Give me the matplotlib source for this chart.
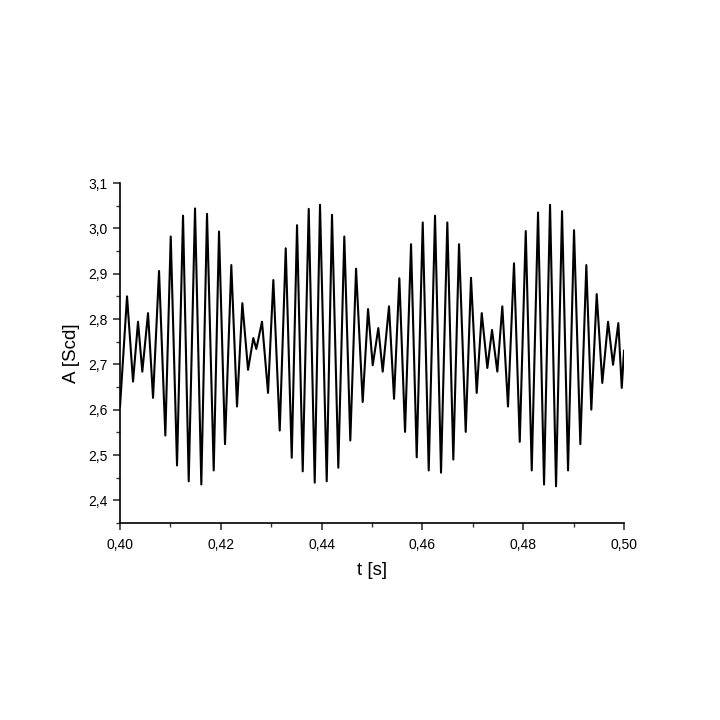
import matplotlib

matplotlib.use("Agg")
import matplotlib.pyplot as plt
from matplotlib.ticker import FuncFormatter, MultipleLocator

plt.rcParams.update(
    {
        "font.family": ["Liberation Sans", "DejaVu Sans"],
        "font.size": 10,
        "axes.labelsize": 13.5,
    }
)

# Turning points of the signal (t in s, A in Scd).
t_points = [
    0.4000, 0.40139, 0.40258, 0.40357, 0.40442, 0.40556, 0.40655, 0.40774,
    0.40899, 0.41006, 0.41131, 0.41250, 0.41363, 0.41488, 0.41613, 0.41726,
    0.41859, 0.41964, 0.42083, 0.42208, 0.42321, 0.42427, 0.42540, 0.42645,
    0.42704, 0.42817, 0.42937, 0.43042, 0.43169, 0.43288, 0.43407, 0.43512,
    0.43625, 0.43744, 0.43863, 0.43968, 0.44101, 0.44206, 0.44331, 0.44450,
    0.44569, 0.44683, 0.44815, 0.44921, 0.45014, 0.45125, 0.45212, 0.45337,
    0.45437, 0.45542, 0.45655, 0.45774, 0.45887, 0.46006, 0.46125, 0.46250,
    0.46369, 0.46494, 0.46613, 0.46726, 0.46859, 0.46964, 0.47077, 0.47177,
    0.47288, 0.47381, 0.47486, 0.47585, 0.47698, 0.47817, 0.47931, 0.48050,
    0.48169, 0.48294, 0.48413, 0.48532, 0.48651, 0.48770, 0.48889, 0.49008,
    0.49133, 0.49252, 0.49351, 0.49458, 0.49569, 0.49683, 0.49782, 0.49887,
    0.49955, 0.5000,
]
a_points = [
    2.607, 2.850, 2.662, 2.794, 2.684, 2.813, 2.626, 2.906,
    2.543, 2.982, 2.477, 3.028, 2.442, 3.044, 2.435, 3.032,
    2.466, 2.993, 2.524, 2.919, 2.607, 2.835, 2.688, 2.758,
    2.734, 2.794, 2.637, 2.886, 2.554, 2.956, 2.494, 3.007,
    2.464, 3.043, 2.439, 3.052, 2.442, 3.030, 2.472, 2.982,
    2.532, 2.911, 2.617, 2.822, 2.698, 2.780, 2.684, 2.828,
    2.624, 2.890, 2.551, 2.965, 2.495, 3.013, 2.466, 3.028,
    2.461, 3.013, 2.490, 2.965, 2.551, 2.891, 2.637, 2.813,
    2.692, 2.776, 2.684, 2.828, 2.607, 2.923, 2.529, 2.994,
    2.466, 3.035, 2.435, 3.052, 2.431, 3.038, 2.466, 2.996,
    2.524, 2.919, 2.600, 2.855, 2.659, 2.794, 2.699, 2.791,
    2.648, 2.730,
]

fig = plt.figure(figsize=(7.2, 7.2), dpi=100)
ax = fig.add_axes([0.1667, 0.2736, 0.7, 0.4722])

ax.plot(t_points, a_points, color="black", linewidth=1.5, solid_joinstyle="round")

ax.set_xlim(0.40, 0.50)
ax.set_ylim(2.35, 3.10)
ax.xaxis.set_major_locator(MultipleLocator(0.02))
ax.xaxis.set_minor_locator(MultipleLocator(0.01))
ax.yaxis.set_major_locator(MultipleLocator(0.1))
ax.yaxis.set_minor_locator(MultipleLocator(0.05))
ax.xaxis.set_major_formatter(FuncFormatter(lambda v, _: f"{v:.2f}".replace(".", ",")))
ax.yaxis.set_major_formatter(FuncFormatter(lambda v, _: f"{v:.1f}".replace(".", ",")))
ax.set_yticks([2.4, 2.5, 2.6, 2.7, 2.8, 2.9, 3.0, 3.1])

for side in ("top", "right"):
    ax.spines[side].set_visible(False)
for side in ("left", "bottom"):
    ax.spines[side].set_linewidth(1.2)

ax.tick_params(which="major", direction="out", length=5, width=1.2, color="#333333")
ax.tick_params(which="minor", direction="out", length=3, width=1.0, color="#333333")
ax.tick_params(axis="x", pad=6)
ax.tick_params(axis="y", pad=4)

ax.set_xlabel("t [s]", labelpad=7)
ax.set_ylabel("A [Scd]", labelpad=6)

fig.savefig("out.png", dpi=100, facecolor="white")
